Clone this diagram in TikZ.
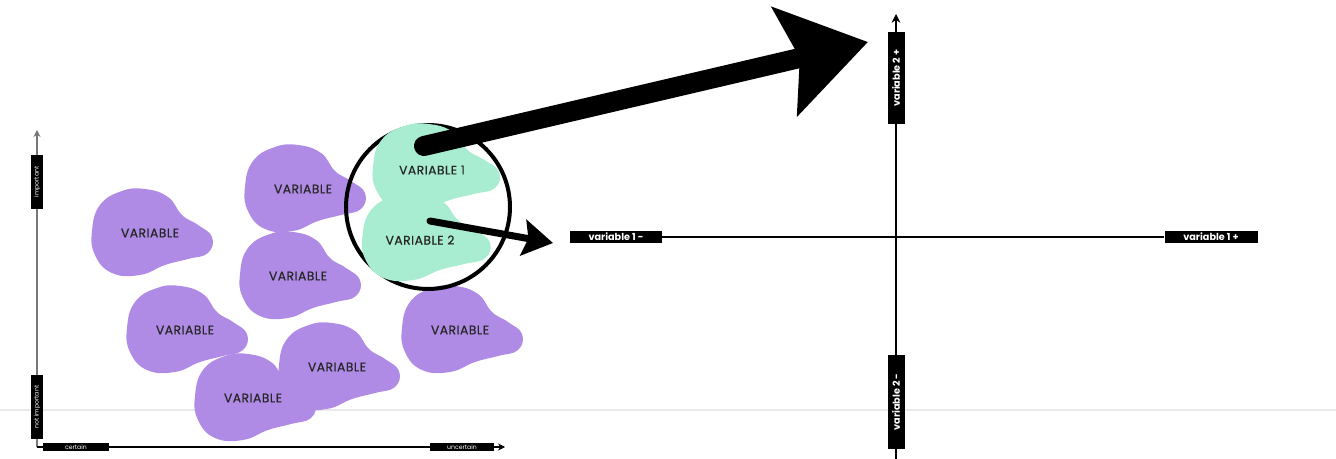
\documentclass[tikz,border=0pt]{standalone}
\usepackage{fontspec}
\setmainfont{Poppins}
\newfontfamily\blobfont{Poppins}[FakeBold=0.6, LetterSpace=4]
\usetikzlibrary{arrows.meta, positioning}

\definecolor{blobpurple}{HTML}{B08BE6}
\definecolor{blobgreen}{HTML}{A8EDD1}
\definecolor{faintline}{HTML}{EAEAEA}
\definecolor{axisgray}{HTML}{777777}

\tikzset{
  blob/.pic={
    \fill[pic actions] plot[smooth cycle, tension=0.75] coordinates {
      (-58,-2) (-50,-28) (-28,-42) (-5,-44) (18,-36) (32,-18) (48,-8)
      (62,4) (58,20) (38,26) (15,32) (-10,42) (-38,40) (-55,22)};
  },
}

\begin{document}
\begin{tikzpicture}[x=0.02cm, y=-0.02cm,
    varname/.style={font=\blobfont\fontsize{7}{7}\selectfont, text=black!85, inner sep=1pt},
    tag/.style={fill=black, text=white, inner sep=0pt, font=\bfseries\fontsize{5.5}{5.5}\selectfont},
    minitag/.style={fill=black, text=white, inner sep=0pt, font=\fontsize{3.5}{3.5}\selectfont},
    bigarrow/.style={line width=0.4cm, line cap=round, -{Stealth[length=1.7cm, width=2.2cm, inset=0.3cm]}},
    smallarrow/.style={line width=0.14cm, line cap=round, -{Stealth[length=0.6cm, width=0.72cm, inset=0.1cm]}}]
  \useasboundingbox (0,0) rectangle (1336,459);

  % faint rule behind everything
  \draw[faintline, line width=0.6pt] (0,410) -- (1336,410);

  % Left chart -- axes
  \coordinate (corner) at (37,447);
  \coordinate (ytop) at (37,130);
  \coordinate (xend) at (505,447);
  \draw[axisgray, line width=1pt, -{Stealth[length=4pt, width=4pt]}] (corner) -- (ytop);
  \draw[line width=0.6pt, -{Stealth[length=4pt, width=4pt]}] (corner) -- (xend);
  \node[minitag, rotate=90, minimum width=1.1cm, minimum height=0.24cm] (imp) at (37,182) {important};
  \node[minitag, rotate=90, minimum width=1.3cm, minimum height=0.24cm] (notimp) at (37,407) {not important};
  \node[minitag, minimum width=1.34cm, minimum height=0.18cm] (cert) at (76,447) {certain};
  \node[minitag, minimum width=1.3cm, minimum height=0.18cm] (uncert) at (462,447) {uncertain};

  % Purple variables
  \pic[fill=blobpurple] at (150,233) {blob};
  \pic[fill=blobpurple] at (303,189) {blob};
  \pic[fill=blobpurple] at (298,276) {blob};
  \pic[fill=blobpurple] at (185,330) {blob};
  \pic[fill=blobpurple] at (460,330) {blob};
  \pic[fill=blobpurple] at (337,367) {blob};
  \pic[fill=blobpurple] at (253,398) {blob};
  \node[varname] (p1) at (150,233) {VARIABLE};
  \node[varname] (p2) at (303,189) {VARIABLE};
  \node[varname] (p3) at (298,276) {VARIABLE};
  \node[varname] (p4) at (185,330) {VARIABLE};
  \node[varname] (p5) at (460,330) {VARIABLE};
  \node[varname] (p6) at (337,367) {VARIABLE};
  \node[varname] (p7) at (253,398) {VARIABLE};

  % Lens round the two picked variables
  \node[circle, draw, line width=0.08cm, minimum size=3.28cm, inner sep=0pt] (lens) at (428,207) {};
  \pic[fill=blobgreen, xscale=1.05] at (434,168) {blob};
  \pic[fill=blobgreen, xscale=1.06] at (424,238) {blob};
  \node[varname] (var1) at (432,170) {VARIABLE 1};
  \node[varname] (var2) at (420,240) {VARIABLE 2};

  % Right chart
  \coordinate (v2top) at (896,14);
  \coordinate (v2bot) at (896,459);
  \node[tag, minimum width=1.84cm, minimum height=0.24cm] (v1minus) at (616,237) {variable 1 -};
  \node[tag, minimum width=1.86cm, minimum height=0.24cm] (v1plus) at (1211,237) {variable 1 +};
  \draw[line width=0.6pt] (v1minus) -- (v1plus);
  \draw[line width=0.6pt, -{Stealth[length=5pt, width=5pt]}] (v2bot) -- (v2top);
  \node[tag, rotate=90, minimum width=1.86cm, minimum height=0.34cm] (v2plus) at (896,78) {variable 2 +};
  \node[tag, rotate=90, minimum width=1.9cm, minimum height=0.34cm] (v2minus) at (896,402) {variable 2 -};

  % Arrows from the lens
  \coordinate (bigtail) at (424,146);
  \coordinate (bigtip) at (868,42);
  \coordinate (smalltail) at (430,221);
  \coordinate (smalltip) at (553,243);
  \draw[bigarrow] (bigtail) -- (bigtip);
  \draw[smallarrow] (smalltail) -- (smalltip);
\end{tikzpicture}
\end{document}
